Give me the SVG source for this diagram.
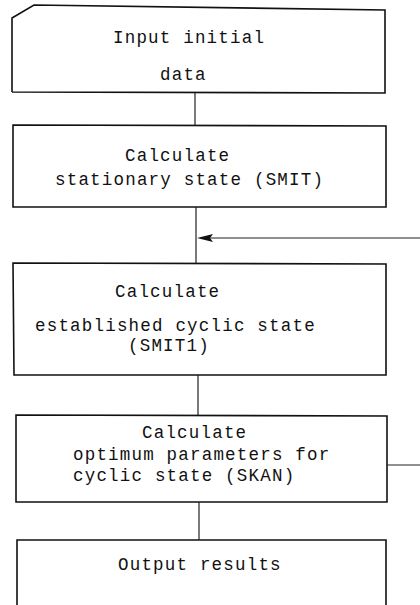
<svg xmlns="http://www.w3.org/2000/svg" width="420" height="605" viewBox="0 0 420 605">
<defs>
<style>
.box{fill:none;stroke:#111;stroke-width:1.6}
.ln{fill:none;stroke:#222;stroke-width:1.2}
text{font-family:"Liberation Mono","DejaVu Sans Mono",monospace;font-size:17.5px;letter-spacing:1.2px;fill:#111}
</style>
</defs>
<rect width="420" height="605" fill="#fff"/>
<g id="n1">
<path class="box" d="M12,92 L12,18 L34,5 L385,10 L385,93 L12,92"/>
<text x="113" y="43">Input initial</text>
<text x="160" y="80">data</text>
</g>
<g id="n2">
<path class="box" d="M13,125 L386,126 L386,207 L13,207 Z"/>
<text x="125" y="161">Calculate</text>
<text x="55" y="185">stationary state (SMIT)</text>
</g>
<g id="n3">
<path class="box" d="M13,263 L386,264 L386,375 L14,375 Z"/>
<text x="115" y="297">Calculate</text>
<text x="35" y="331">established cyclic state</text>
<text x="128" y="351">(SMIT1)</text>
</g>
<g id="n4">
<path class="box" d="M16,415 L387,416 L387,502 L16,502 Z"/>
<text x="142" y="438">Calculate</text>
<text x="73" y="460">optimum parameters for</text>
<text x="73" y="481">cyclic state (SKAN)</text>
</g>
<g id="n5">
<path class="box" d="M17,605 L17,540 L386,540 L386,605"/>
<text x="118" y="570">Output results</text>
</g>
<g id="connectors">
<line class="ln" x1="195" y1="93" x2="195" y2="125"/>
<line class="ln" x1="196" y1="207" x2="196" y2="263"/>
<line class="ln" x1="198" y1="375" x2="198" y2="415"/>
<line class="ln" x1="199" y1="502" x2="199" y2="540"/>
<path class="ln" d="M387,465 L420,465"/>
<line class="ln" x1="420" y1="238" x2="205" y2="238"/>
<path d="M197,238 L213,234 L210,238 L213,242 Z" fill="#111"/>
</g>
</svg>
